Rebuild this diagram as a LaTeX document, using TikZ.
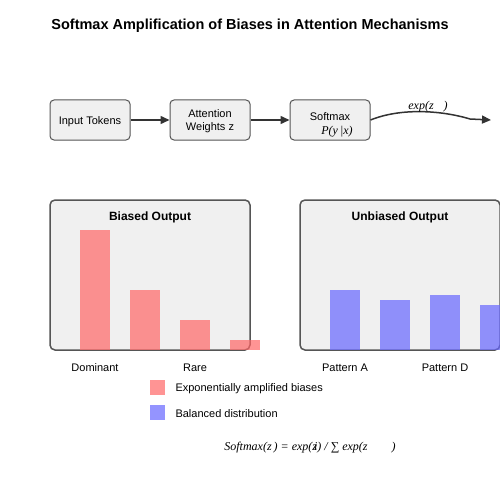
\documentclass[tikz,border=0pt]{standalone}
\usepackage{fontspec}
\setmainfont{Liberation Sans}
\newfontfamily\formulafont{Liberation Serif}
\usetikzlibrary{arrows.meta}
\definecolor{boxfill}{RGB}{240, 240, 240}
\definecolor{boxline}{RGB}{85, 85, 85}
\definecolor{arrowdark}{RGB}{51, 51, 51}
\definecolor{biasred}{RGB}{255, 102, 102}
\definecolor{fairblue}{RGB}{102, 102, 255}

\tikzset{
  stepbox/.style={draw=boxline, fill=boxfill, line width=1pt, rounded corners=4pt,
    minimum width=80pt, minimum height=40pt, inner sep=0pt, align=center,
    font=\fontsize{11}{13}\selectfont},
  panel/.style={draw=boxline, fill=boxfill, line width=1.5pt, rounded corners=5pt},
  flow/.style={draw=arrowdark, line width=1.5pt, -{Triangle[length=9pt, width=8pt]}},
  label/.style={font=\fontsize{11}{13}\selectfont},
  formula/.style={font=\formulafont\itshape\fontsize{12}{14}\selectfont}
}

\begin{document}
\begin{tikzpicture}[x=1pt, y=-1pt]
  \useasboundingbox (0, 0) rectangle (500, 500);

  \node [font=\bfseries\fontsize{14.5}{16}\selectfont] (title) at (250, 26)
  { Softmax Amplification of Biases in Attention Mechanisms };

  % flow of the mechanism
  \node [stepbox] (input) at (90, 120) {};
  \node [label] (inputlabel) at (90, 122) { Input Tokens };
  \node [stepbox] (weights) at (210, 120) {};
  \node [label, align=center] (weightslabel) at (210, 121) { Attention\\ Weights z };
  \node [stepbox] (softmax) at (330, 120) {};
  \node [label] (softlabel) at (330, 117) { Softmax };
  \node [formula] (prob) at (337, 132) { P(y$\,$|x) };
  \coordinate (bend) at (470, 119);
  \coordinate (outend) at (491, 120);

  \draw [flow] (input) -- (weights);
  \draw [flow] (weights) -- (softmax);
  \draw [draw=arrowdark, line width=1.5pt] (softmax.east)
  .. controls (400, 108) and (440, 110) .. (bend);
  \draw [flow] (bend) -- (outend);
  \node [formula] (explabel) at (428, 107) { exp(z\hspace{10pt}) };

  % biased output
  \draw [panel] (50, 200) rectangle +(200, 150);
  \node [font=\bfseries\fontsize{12}{14}\selectfont] (biastitle) at (150, 217)
  { Biased Output };
  \foreach \x/\h in {80/120, 130/60, 180/30, 230/10} {
    \fill [fill=biasred, fill opacity=0.7] (\x, 350) rectangle +(30, -\h);
  }
  \node [label] (dominant) at (95, 368) { Dominant };
  \node [label] (rare) at (195, 368) { Rare };

  % unbiased output
  \draw [panel] (300, 200) rectangle +(200, 150);
  \node [font=\bfseries\fontsize{12}{14}\selectfont] (fairtitle) at (400, 217)
  { Unbiased Output };
  \begin{scope}
    \clip (0, 0) rectangle (500, 500);
    \foreach \x/\h in {330/60, 380/50, 430/55, 480/45} {
      \fill [fill=fairblue, fill opacity=0.7] (\x, 350) rectangle +(30, -\h);
    }
  \end{scope}
  \node [label] (patterna) at (345, 368) { Pattern A };
  \node [label] (patternd) at (445, 368) { Pattern D };

  % legend
  \fill [fill=biasred, fill opacity=0.7] (150, 380) rectangle +(15, 15);
  \node [label, anchor=west] (legbias) at (172, 389) { Exponentially amplified biases };
  \fill [fill=fairblue, fill opacity=0.7] (150, 405) rectangle +(15, 15);
  \node [label, anchor=west] (legfair) at (172, 414) { Balanced distribution };

  \node [formula] (softformula) at (310, 448)
  { Softmax(z\hspace{2pt}) = exp(z\hspace{-3pt}i) / ∑ exp(z\hspace{24pt}) };
\end{tikzpicture}
\end{document}
